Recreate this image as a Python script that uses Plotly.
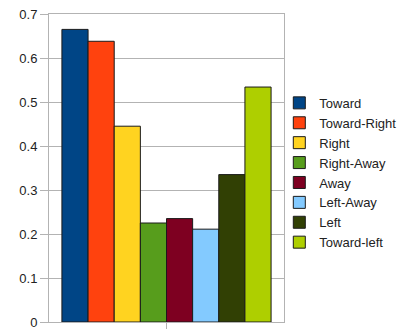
import plotly.graph_objects as go

# Share of responses per direction
directions = ["Toward", "Toward-Right", "Right", "Right-Away",
              "Away", "Left-Away", "Left", "Toward-left"]
values = [0.665, 0.638, 0.445, 0.225, 0.235, 0.211, 0.335, 0.534]
colors = ["#004586", "#ff420e", "#ffd320", "#579d1c",
          "#7e0021", "#83caff", "#314004", "#aecf00"]
y_ticks = [0, 0.1, 0.2, 0.3, 0.4, 0.5, 0.6, 0.7]

GRID = "#b3b3b3"
FONT = "Liberation Sans, Arial, sans-serif"

fig = go.Figure()
for name, val, col in zip(directions, values, colors):
    fig.add_trace(go.Bar(
        x=["all"], y=[val], name=name,
        marker=dict(color=col, line=dict(color="#1a1a1a", width=1)),
    ))

fig.update_layout(
    width=402, height=329,
    margin=dict(l=49, r=118, t=14, b=7, autoexpand=False),
    paper_bgcolor="white", plot_bgcolor="white",
    barmode="group", bargap=0.11, bargroupgap=0,
    font=dict(family=FONT, size=13, color="#222"),
    showlegend=True,
    legend=dict(
        x=0.98, xanchor="left", y=0.76, yanchor="top",
        font=dict(family=FONT, size=13, color="#222"),
        bgcolor="rgba(0,0,0,0)", borderwidth=0,
        tracegroupgap=0,
    ),
)
fig.update_yaxes(
    range=[0, 0.7], tickvals=y_ticks, ticktext=[f"{v:g}" for v in y_ticks],
    showgrid=True, gridcolor=GRID, gridwidth=1,
    showline=True, linecolor=GRID, linewidth=1, mirror=True,
    ticks="outside", ticklen=8, tickcolor=GRID,
    zeroline=False, automargin=False, ticklabeloverflow="allow",
)
fig.update_xaxes(
    range=[-0.5, 0.5], showticklabels=False,
    showline=True, linecolor=GRID, linewidth=1, mirror=True,
    ticks="outside", ticklen=8, tickcolor=GRID,
    showgrid=False, automargin=False,
)

fig.write_html("out.html")
